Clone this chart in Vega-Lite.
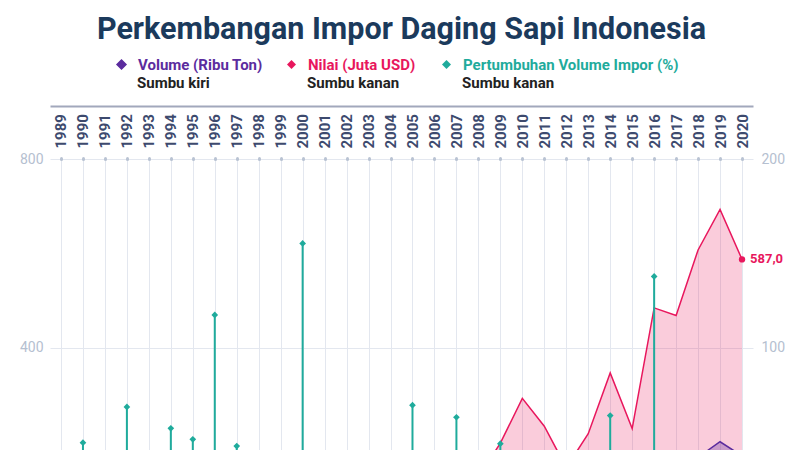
{
  "$schema": "https://vega.github.io/schema/vega-lite/v6.json",
  "width": 703,
  "height": 377,
  "autosize": {"type": "none"},
  "padding": {"left": 50, "top": 159, "right": 47, "bottom": 10},
  "background": "white",
  "title": {
    "text": "Perkembangan Impor Daging Sapi Indonesia",
    "font": "Roboto",
    "fontSize": 30.5,
    "fontWeight": "bold",
    "color": "#1b3a5c",
    "anchor": "middle",
    "offset": 12
  },
  "data": {
    "values": [
      {"year": 1989, "volume": 0.67, "nilai": 10, "growth": null},
      {"year": 1990, "volume": 1.0, "nilai": 14, "growth": 49.5},
      {"year": 1991, "volume": 0.83, "nilai": 12, "growth": -17.0},
      {"year": 1992, "volume": 1.4, "nilai": 18, "growth": 68.5},
      {"year": 1993, "volume": 1.56, "nilai": 22, "growth": 11.0},
      {"year": 1994, "volume": 2.45, "nilai": 28, "growth": 57.1},
      {"year": 1995, "volume": 3.7, "nilai": 40, "growth": 51.3},
      {"year": 1996, "volume": 8.1, "nilai": 60, "growth": 117.3},
      {"year": 1997, "volume": 12.0, "nilai": 68, "growth": 47.7},
      {"year": 1998, "volume": 7.5, "nilai": 25, "growth": -37.5},
      {"year": 1999, "volume": 6.7, "nilai": 20, "growth": -10.7},
      {"year": 2000, "volume": 17.0, "nilai": 48, "growth": 155.2},
      {"year": 2001, "volume": 16.0, "nilai": 40, "growth": -5.9},
      {"year": 2002, "volume": 14.0, "nilai": 38, "growth": -12.5},
      {"year": 2003, "volume": 13.0, "nilai": 36, "growth": -7.1},
      {"year": 2004, "volume": 14.8, "nilai": 34, "growth": 13.8},
      {"year": 2005, "volume": 25.0, "nilai": 60, "growth": 69.4},
      {"year": 2006, "volume": 23.3, "nilai": 58, "growth": -6.8},
      {"year": 2007, "volume": 38.0, "nilai": 95, "growth": 63.0},
      {"year": 2008, "volume": 40.3, "nilai": 125, "growth": 6.1},
      {"year": 2009, "volume": 60.0, "nilai": 197, "growth": 49.0},
      {"year": 2010, "volume": 70.0, "nilai": 292, "growth": 16.7},
      {"year": 2011, "volume": 55.0, "nilai": 233, "growth": -21.4},
      {"year": 2012, "volume": 40.0, "nilai": 145, "growth": -27.3},
      {"year": 2013, "volume": 48.8, "nilai": 217, "growth": 22.0},
      {"year": 2014, "volume": 80.0, "nilai": 346, "growth": 63.9},
      {"year": 2015, "volume": 63.1, "nilai": 228, "growth": -21.1},
      {"year": 2016, "volume": 150.0, "nilai": 484, "growth": 137.7},
      {"year": 2017, "volume": 160.0, "nilai": 468, "growth": 6.7},
      {"year": 2018, "volume": 167.0, "nilai": 607, "growth": 4.4},
      {"year": 2019, "volume": 200.0, "nilai": 693, "growth": 19.8},
      {"year": 2020, "volume": 170.0, "nilai": 587, "growth": -15.0}
    ]
  },
  "layer": [
    {
      "layer": [
        {
          "mark": {"type": "area", "color": "#e8175d", "fillOpacity": 0.22, "clip": true, "line": {"color": "#e8175d", "strokeWidth": 1.5}},
          "encoding": {
            "x": {
              "field": "year", "type": "ordinal",
              "scale": {"type": "point", "padding": 0.5},
              "axis": {
                "orient": "top", "offset": 53, "title": null,
                "labelAngle": 270, "labelAlign": "left", "labelBaseline": "middle",
                "labelPadding": -42, "ticks": false, "tickSize": 0,
                "domain": true, "domainColor": "#a2a8bc", "domainWidth": 2,
                "labelFont": "Roboto", "labelFontWeight": "bold", "labelFontSize": 15, "labelColor": "#3d4a6e",
                "labelOverlap": false, "labelBound": false,
                "grid": true, "gridColor": "#e3e7ef", "gridWidth": 1
              }
            },
            "y": {
              "field": "nilai", "type": "quantitative",
              "scale": {"domain": [0, 800], "nice": false},
              "axis": {
                "orient": "left", "title": null, "values": [0, 400, 800],
                "grid": true, "gridColor": "#e3e7ef", "domain": false, "ticks": false,
                "labelPadding": 7, "labelFont": "Roboto", "labelFontSize": 14, "labelColor": "#b5c0d0"
              }
            }
          }
        },
        {
          "mark": {"type": "area", "fillOpacity": 0.3, "clip": true, "line": {"strokeWidth": 1.5}},
          "encoding": {
            "x": {"field": "year", "type": "ordinal"},
            "y": {"field": "volume", "type": "quantitative"},
            "color": {
              "datum": "Volume (Ribu Ton)", "type": "nominal",
              "scale": {"range": ["#5b2c9e"]},
              "legend": {
                "orient": "none", "legendX": 64, "legendY": -102, "padding": 0,
                "symbolType": "diamond", "symbolSize": 80, "symbolOpacity": 1,
                "labelFont": "Roboto", "labelFontSize": 15, "labelFontWeight": "bold", "labelColor": "#5b2c9e", "labelOffset": 9, "labelLimit": 400,
                "title": "Sumbu kiri", "titleOrient": "bottom", "titleFont": "Roboto", "titleFontSize": 15, "titleFontWeight": "bold", "titleColor": "#222222", "titlePadding": 3,
                "encoding": {"title": {"dx": {"value": 23}}, "symbols": {"fillOpacity": {"value": 1}}}
              }
            }
          }
        },
        {
          "transform": [{"filter": "datum.year == 2020"}],
          "mark": {"type": "point", "filled": true, "size": 40, "opacity": 1},
          "encoding": {
            "x": {"field": "year", "type": "ordinal"},
            "y": {"field": "nilai", "type": "quantitative"},
            "fill": {
              "datum": "Nilai (Juta USD)", "type": "nominal",
              "scale": {"range": ["#e8175d"]},
              "legend": {
                "orient": "none", "legendX": 234, "legendY": -102, "padding": 0,
                "symbolType": "diamond", "symbolSize": 80, "symbolOpacity": 1,
                "labelFont": "Roboto", "labelFontSize": 15, "labelFontWeight": "bold", "labelColor": "#e8175d", "labelOffset": 9, "labelLimit": 400,
                "title": "Sumbu kanan", "titleOrient": "bottom", "titleFont": "Roboto", "titleFontSize": 15, "titleFontWeight": "bold", "titleColor": "#222222", "titlePadding": 3,
                "encoding": {"title": {"dx": {"value": 23}}}
              }
            }
          }
        },
        {
          "transform": [{"filter": "datum.year == 2020"}],
          "mark": {"type": "text", "align": "left", "baseline": "middle", "dx": 8, "font": "Roboto", "fontSize": 13, "fontWeight": "bold", "color": "#e8175d"},
          "encoding": {
            "x": {"field": "year", "type": "ordinal"},
            "y": {"field": "nilai", "type": "quantitative"},
            "text": {"field": "nilai", "type": "quantitative", "format": ".1f"}
          }
        }
      ]
    },
    {
      "layer": [
        {
          "transform": [{"filter": "datum.growth != null"}],
          "mark": {"type": "rule", "color": "#1fab9c", "strokeWidth": 2, "clip": true},
          "encoding": {
            "x": {
              "field": "year", "type": "ordinal",
              "axis": {
                "orient": "top", "offset": 0, "title": null,
                "labels": false, "domain": false, "grid": false,
                "ticks": true, "tickSize": 1, "tickWidth": 3, "tickCap": "round", "tickColor": "#b9c3d3"
              }
            },
            "y": {
              "field": "growth", "type": "quantitative",
              "scale": {"domain": [0, 200], "nice": false},
              "axis": {
                "orient": "right", "title": null, "values": [0, 100, 200],
                "grid": false, "domain": false, "ticks": false,
                "labelPadding": 8, "labelFont": "Roboto", "labelFontSize": 14, "labelColor": "#b5c0d0"
              }
            },
            "y2": {"datum": 0}
          }
        },
        {
          "transform": [{"filter": "datum.growth != null"}],
          "mark": {"type": "point", "filled": true, "size": 45, "color": "#1fab9c", "opacity": 1, "clip": true},
          "encoding": {
            "x": {"field": "year", "type": "ordinal"},
            "y": {"field": "growth", "type": "quantitative"},
            "shape": {
              "datum": "Pertumbuhan Volume Impor (%)", "type": "nominal",
              "scale": {"range": ["diamond"]},
              "legend": {
                "orient": "none", "legendX": 389, "legendY": -102, "padding": 0,
                "symbolSize": 80, "symbolOpacity": 1,
                "labelFont": "Roboto", "labelFontSize": 15, "labelFontWeight": "bold", "labelColor": "#1fab9c", "labelOffset": 9, "labelLimit": 400,
                "title": "Sumbu kanan", "titleOrient": "bottom", "titleFont": "Roboto", "titleFontSize": 15, "titleFontWeight": "bold", "titleColor": "#222222", "titlePadding": 3,
                "encoding": {"title": {"dx": {"value": 23}}}
              }
            }
          }
        }
      ]
    }
  ],
  "resolve": {"scale": {"y": "independent"}, "axis": {"x": "independent"}},
  "config": {
    "view": {"stroke": null},
    "font": "Roboto",
    "locale": {"number": {"decimal": ",", "thousands": ".", "grouping": [3], "currency": ["", ""]}}
  }
}
